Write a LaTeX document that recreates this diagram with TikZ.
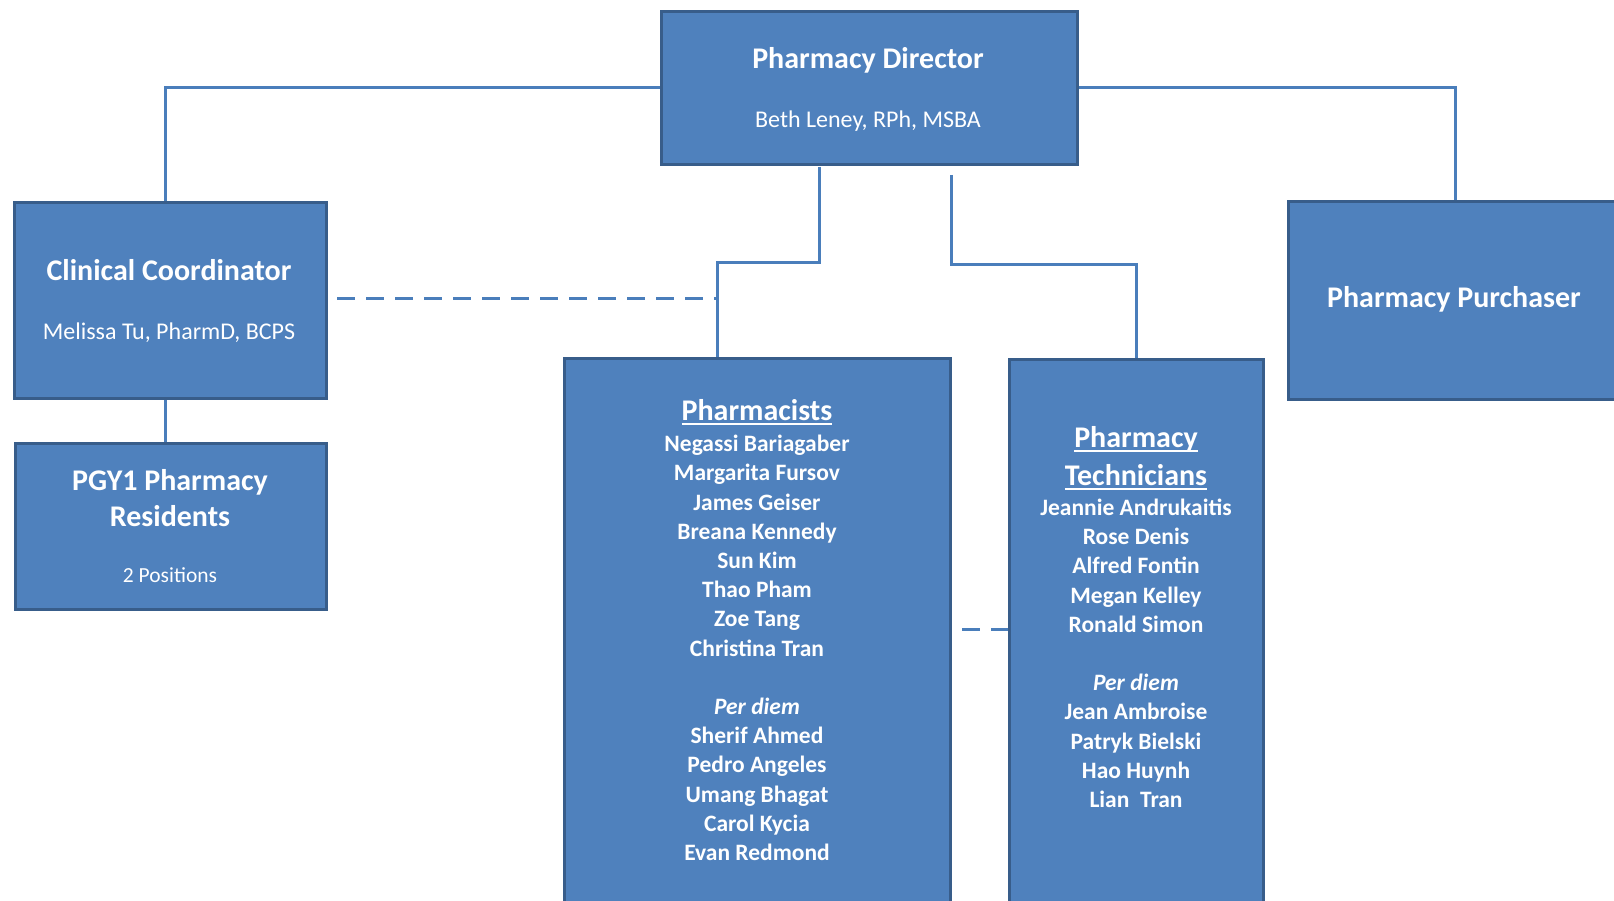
\documentclass[tikz,border=0pt]{standalone}
\usepackage{fontspec}
\setmainfont{Carlito}
\definecolor{boxfill}{HTML}{4F81BD}
\definecolor{boxline}{HTML}{385D8A}
\definecolor{connc}{HTML}{4A7EBB}
\newcommand{\myul}[1]{\vtop{\hbox{\raisebox{0pt}[\height][0pt]{#1}}\kern3pt\hrule height 2pt}}
\newcommand{\titlef}{\fontsize{30}{36}\selectfont\bfseries}
\newcommand{\subf}{\fontsize{24}{29}\selectfont}
\newcommand{\namef}{\fontsize{23.5}{29.2}\selectfont\bfseries}
\begin{document}
\begin{tikzpicture}[x=1pt,y=-1pt,
  orgbox/.style={draw=boxline, fill=boxfill, line width=3pt, inner sep=0pt, anchor=north west},
  lbl/.style={text=white, inner sep=0pt, anchor=base, align=center},
  conn/.style={draw=connc, line width=3pt},
  dashconn/.style={conn, dash pattern=on 18pt off 11pt}]
\useasboundingbox (0,0) rectangle (1614,901);
\clip (0,0) rectangle (1614,901);

% boxes
\node[orgbox, minimum width=416pt, minimum height=153pt] (dir) at (660,10) {};
\node[orgbox, minimum width=312pt, minimum height=196pt] (cc) at (13,201) {};
\node[orgbox, minimum width=311pt, minimum height=166pt] (pgy) at (14,442) {};
\node[orgbox, minimum width=334pt, minimum height=198pt] (pur) at (1287,200) {};
\node[orgbox, minimum width=386pt, minimum height=559pt] (ph) at (563,357) {};
\node[orgbox, minimum width=254pt, minimum height=558pt] (tech) at (1008,358) {};

% texts (multi-line nodes are placed by the baseline of their last line)
\node[lbl, font=\titlef] (dirt) at (868,68.4) {Pharmacy Director};
\node[lbl, font=\subf] (dirs) at (868,128) {Beth Leney, RPh, MSBA};
\node[lbl, font=\titlef] (cct) at (169,280.4) {Clinical Coordinator};
\node[lbl, font=\subf] (ccs) at (169,339) {Melissa Tu, PharmD, BCPS};
\node[lbl, font=\titlef] (pgyt) at (170,526.4) {PGY1 Pharmacy\\Residents};
\node[lbl, font=\fontsize{21.5}{26}\selectfont] (pgys) at (170,582) {2 Positions};
\node[lbl, font=\titlef] (purt) at (1454,308) {Pharmacy Purchaser};

\node[lbl, font=\titlef] (phh) at (757,420) {\myul{Pharmacists}};
\node[lbl, font=\namef] (phl) at (757,860.5) {Negassi Bariagaber\\Margarita Fursov\\James Geiser\\Breana Kennedy\\Sun Kim\\Thao Pham\\Zoe Tang\\Christina Tran\\[29.2pt]\textit{Per diem}\\Sherif Ahmed\\Pedro Angeles\\Umang Bhagat\\Carol Kycia\\Evan Redmond};

\node[lbl, font=\fontsize{30}{38}\selectfont\bfseries] (teh) at (1136,485) {\myul{Pharmacy}\\\myul{Technicians}};
\node[lbl, font=\namef] (tel) at (1136,807.5) {Jeannie Andrukaitis\\Rose Denis\\Alfred Fontin\\Megan Kelley\\Ronald Simon\\[29.2pt]\textit{Per diem}\\Jean Ambroise\\Patryk Bielski\\Hao Huynh\\Lian\ \ Tran};

% connectors
\coordinate (ccx) at (165,0);
\draw[conn] (dir.west) -| (ccx |- cc.north);
\draw[conn] (dir.east) -| (pur.north);
\draw[conn] (ccx |- cc.south) -- (ccx |- pgy.north);
\coordinate (a1) at (819,167);
\coordinate (a2) at (717,263);
\draw[conn] (a1) |- (a2) -- (a2 |- ph.north);
\coordinate (b1) at (951,175);
\coordinate (b2) at (1136,265);
\draw[conn] (b1) |- (b2) -- (b2 |- tech.north);
\coordinate (c1) at (337,298.5);
\draw[dashconn] (c1) -- (c1 -| a2);
\coordinate (d1) at (962,629);
\draw[dashconn] (d1) -- (d1 -| tech.west);
\end{tikzpicture}
\end{document}
